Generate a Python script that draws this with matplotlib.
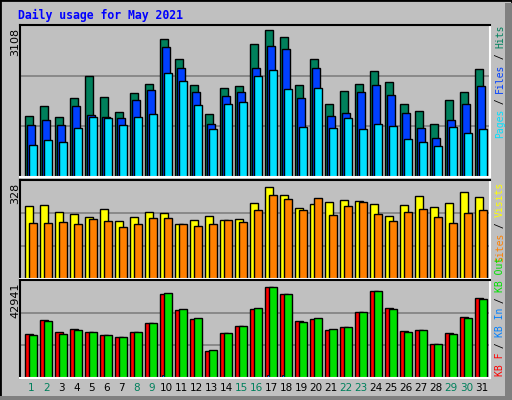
import matplotlib
matplotlib.use("Agg")
import matplotlib.pyplot as plt
from matplotlib.patches import Rectangle

days = list(range(1, 32))
weekend = [1, 2, 8, 9, 15, 16, 22, 23, 29, 30]
hits = [1290,1501,1269,1670,2136,1692,1374,1776,1966,2918,2495,1945,1332,1882,1924,2812,
        3108,2960,1945,2495,1544,1818,1966,2241,2009,1544,1395,1121,1628,1797,2284]
files = [1100,1205,1100,1501,1311,1269,1247,1628,1839,2749,2305,1797,1121,1713,1797,2305,
         2770,2706,1670,2305,1290,1353,1797,1945,1734,1353,1036,825,1205,1544,1924]
pages = [677,782,740,1036,1269,1247,1100,1269,1332,2199,2030,1522,1015,1544,1586,2136,
         2262,1861,1057,1882,1036,1247,1015,1121,1078,803,740,655,1057,930,1015]
visits = [260,264,239,232,221,249,207,221,239,235,196,210,225,210,214,271,
          328,299,253,267,274,282,278,267,225,264,296,257,271,310,292]
sites = [200,200,203,196,214,207,185,196,217,217,196,189,196,210,203,246,
         299,285,246,289,228,260,274,232,207,239,249,221,200,235,246]
kb_f = [20921,27370,21707,23123,21707,20292,19348,21707,25955,39640,32089,27842,12741,21236,24539,32718,
        42941,39640,26898,27842,22808,24067,31145,41055,33033,22179,22651,16045,21236,28786,37752]
kb_in = [300,500,300,500,500,500,300,500,500,1300,500,500,300,500,500,500,
         1300,1300,500,500,500,500,500,500,500,500,500,300,500,500,500]
kb_out = [20292,26898,20764,22651,21707,20292,19348,21707,25955,40112,32561,28314,13213,21236,24539,33033,
          42941,39640,26426,28314,23123,24067,31145,41055,32561,21707,22651,16045,20764,28314,37280]
max_labels = ["3108", "328", "42941"]

W, H = 512, 400
fig = plt.figure(figsize=(W/100, H/100), dpi=100)
fig.patch.set_facecolor("#C0C0C0")

# frame
fig.add_artist(Rectangle((0, 0), 1, 1, transform=fig.transFigure, fill=False, ec="black", lw=2))
fig.add_artist(Rectangle((505/W, 0), 7/W, 397/H, transform=fig.transFigure, fc="#808080", ec="none"))
fig.add_artist(Rectangle((0, 0), 1, 4/H, transform=fig.transFigure, fc="#808080", ec="none"))

fig.text(18/W, 1-15/H, "Daily usage for May 2021", color="#0000FF", fontsize=8.3,
         fontweight="bold", family="DejaVu Sans Mono", va="center", ha="left")

def px_axes(top, bottom):
    return fig.add_axes([20/W, 1-bottom/H, 470/W, (bottom-top)/H])

x0 = 1 - 5.3/15
bw = 7.4/15

def setup(ax, ymax, barmax_px, panel_px, label, top_px):
    ax.set_facecolor("#C0C0C0")
    ax.set_xlim(x0, x0 + 470/15)
    ylim = ymax * panel_px / barmax_px
    ax.set_ylim(0, ylim)
    for f in (1/3, 2/3):
        ax.axhline(ylim*f, color="#808080", lw=1.2, zorder=0)
    ax.set_xticks([]); ax.set_yticks([])
    for s in ("top", "left"):
        ax.spines[s].set_color("black"); ax.spines[s].set_linewidth(1.5)
    for s in ("bottom", "right"):
        ax.spines[s].set_color("white"); ax.spines[s].set_linewidth(1.5)
    fig.text(15/W, 1-(top_px+3)/H, label, rotation=90, fontsize=8, va="top", ha="center",
             family="DejaVu Sans")

kw = dict(align="edge", width=bw, edgecolor="black", linewidth=1)

ax1 = px_axes(25, 177)
setup(ax1, 3108, 147, 152, max_labels[0], 25)
ax1.bar([d for d in days], hits, color="#00805C", **kw)
ax1.bar([d + 2/15 for d in days], files, color="#0040FF", **kw)
ax1.bar([d + 4/15 for d in days], pages, color="#00E0FF", **kw)

ax2 = px_axes(180, 279)
setup(ax2, 328, 92, 99, max_labels[1], 180)
ax2.bar(days, visits, color="#FFFF00", **dict(kw, width=8/15))
ax2.bar([d + 4/15 for d in days], sites, color="#FF8000", **kw)

ax3 = px_axes(280, 378)
setup(ax3, 42941, 91, 98, max_labels[2], 280)
ax3.bar(days, kb_f, color="#FF0000", **kw)
ax3.bar([d + 4/15 for d in days], kb_out, color="#00E000", **kw)
ax3.bar([d + 1.5/15 for d in days], kb_in, color="#0080FF", align="edge", width=2/15,
        edgecolor="black", linewidth=0.5)

for d in days:
    xc = (20 + (d - x0 + 0.4) * 15) / W
    fig.text(xc, 1-388/H, str(d), ha="center", va="center", fontsize=7.5,
             color="#00805C" if d in weekend else "black")

adv = 5.6  # px per char
def right_label(bottom_px, parts):
    y = bottom_px
    for txt, col in parts:
        fig.text(500/W, 1-y/H, txt, rotation=90, color=col, fontsize=7,
                 family="DejaVu Sans Mono", ha="center", va="bottom")
        y -= len(txt) * adv

right_label(138, [("Pages", "#00E0FF"), (" / ", "black"), ("Files", "#0040FF"),
                  (" / ", "black"), ("Hits", "#00805C")])
right_label(262, [("Sites", "#FF8000"), (" / ", "black"), ("Visits", "#FFFF00")])
right_label(376, [("KB F", "#FF0000"), (" / ", "black"), ("KB In", "#0080FF"),
                  (" / ", "black"), ("KB Out", "#00E000")])

fig.savefig("out.png", dpi=100, facecolor=fig.get_facecolor())
